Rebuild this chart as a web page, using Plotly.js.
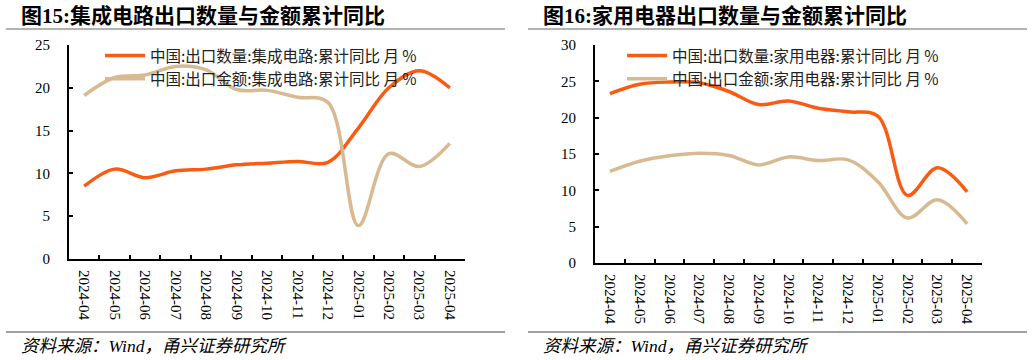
<!DOCTYPE html>
<html>
<head>
<meta charset="utf-8">
<script src="https://cdn.plot.ly/plotly-3.0.1.min.js"></script>
<style>html,body{margin:0;padding:0;background:#fff;}#chart{width:1032px;height:360px;}</style>
</head>
<body>
<div id="chart"></div>
<script>
const months = ["2024-04","2024-05","2024-06","2024-07","2024-08","2024-09","2024-10","2024-11","2024-12","2025-01","2025-02","2025-03","2025-04"];
const icQty = [8.5,10.5,9.5,10.3,10.5,11.0,11.2,11.4,11.3,15.3,20.0,22.0,20.0];
const icVal = [19.1,21.2,21.5,22.5,22.1,19.8,19.7,18.9,18.3,3.9,12.3,10.8,13.5];
const haQty = [23.3,24.6,24.9,24.8,23.6,21.8,22.3,21.3,20.8,20.2,9.3,13.1,9.8];
const haVal = [12.6,14.0,14.75,15.1,14.8,13.5,14.6,14.1,14.2,11.2,6.2,8.7,5.4];
const names = {
  icQty: "中国:出口数量:集成电路:累计同比 月 %",
  icVal: "中国:出口金额:集成电路:累计同比 月 %",
  haQty: "中国:出口数量:家用电器:累计同比 月 %",
  haVal: "中国:出口金额:家用电器:累计同比 月 %"
};
const titles = ["图15:集成电路出口数量与金额累计同比","图16:家用电器出口数量与金额累计同比"];
const sourceText = "资料来源：Wind，甬兴证券研究所";

const ORANGE = "#F95B12", TAN = "#D8BA92";
const W = 1032, H = 360;
const px = v => v / W, py = v => 1 - v / H;

function tr(y, name, color, xa, ya, leg) {
  return {x: months, y: y, name: name, type: "scatter", mode: "lines",
    line: {color: color, width: 3.5, shape: "spline", smoothing: 1},
    xaxis: xa, yaxis: ya, legend: leg, hoverinfo: "skip"};
}
const data = [
  tr(icQty, names.icQty, ORANGE, "x", "y", "legend"),
  tr(icVal, names.icVal, TAN, "x", "y", "legend"),
  tr(haQty, names.haQty, ORANGE, "x2", "y2", "legend2"),
  tr(haVal, names.haVal, TAN, "x2", "y2", "legend2")
];
const tickFont = {family: "Liberation Serif, Times New Roman, serif", size: 15, color: "#000"};
function xax(d0, d1, anchor) {
  return {domain: [px(d0), px(d1)], anchor: anchor, type: "category", range: [-0.5, 12.5],
    tickson: "boundaries", ticks: "inside", ticklen: 4, tickwidth: 2, tickcolor: "#000",
    showline: true, linecolor: "#000", linewidth: 2, showgrid: false, zeroline: false,
    tickangle: 90, tickfont: tickFont, ticklabelstandoff: 6, fixedrange: true};
}
function yax(y0, y1, max, anchor) {
  return {domain: [py(y0), py(y1)], anchor: anchor, range: [0, max], dtick: 5,
    ticks: "inside", ticklen: 4, tickwidth: 2, tickcolor: "#000",
    showline: true, linecolor: "#000", linewidth: 2, showgrid: false, zeroline: false,
    tickfont: tickFont, ticklabelstandoff: 14, fixedrange: true};
}
const legFont = {family: "Noto Sans CJK SC, sans-serif", size: 15.5, color: "#222"};
const layout = {
  width: W, height: H, margin: {l: 0, r: 0, t: 0, b: 0},
  paper_bgcolor: "#fff", plot_bgcolor: "rgba(0,0,0,0)", showlegend: true,
  xaxis: xax(69, 465, "y"), yaxis: yax(259, 45, 25, "x"),
  xaxis2: xax(595, 982, "y2"), yaxis2: yax(263, 45, 30, "x2"),
  legend: {x: px(100), y: py(39), xanchor: "left", yanchor: "top", bgcolor: "rgba(0,0,0,0)",
    font: legFont, tracegroupgap: 0, itemwidth: 40, traceorder: "normal"},
  legend2: {x: px(622), y: py(39), xanchor: "left", yanchor: "top", bgcolor: "rgba(0,0,0,0)",
    font: legFont, tracegroupgap: 0, itemwidth: 40, traceorder: "normal"},
  shapes: [
    {type: "line", xref: "paper", yref: "paper", x0: px(6), x1: px(505), y0: py(29), y1: py(29), line: {color: "#999", width: 1.5}},
    {type: "line", xref: "paper", yref: "paper", x0: px(528), x1: px(1027), y0: py(29), y1: py(29), line: {color: "#999", width: 1.5}},
    {type: "line", xref: "paper", yref: "paper", x0: px(6), x1: px(505), y0: py(332), y1: py(332), line: {color: "#444", width: 1.2}},
    {type: "line", xref: "paper", yref: "paper", x0: px(528), x1: px(1027), y0: py(332), y1: py(332), line: {color: "#444", width: 1.2}}
  ],
  annotations: [
    {text: "<b>" + titles[0] + "</b>", xref: "paper", yref: "paper", x: px(19), y: py(16), xanchor: "left", yanchor: "middle", showarrow: false,
      font: {family: "Liberation Serif, Noto Sans CJK SC, serif", size: 21, color: "#000"}},
    {text: "<b>" + titles[1] + "</b>", xref: "paper", yref: "paper", x: px(541), y: py(16), xanchor: "left", yanchor: "middle", showarrow: false,
      font: {family: "Liberation Serif, Noto Sans CJK SC, serif", size: 21, color: "#000"}},
    {text: "<i>" + sourceText + "</i>", xref: "paper", yref: "paper", x: px(19), y: py(346), xanchor: "left", yanchor: "middle", showarrow: false,
      font: {family: "Liberation Serif, Noto Sans CJK SC, serif", size: 17.5, color: "#000"}},
    {text: "<i>" + sourceText + "</i>", xref: "paper", yref: "paper", x: px(541), y: py(346), xanchor: "left", yanchor: "middle", showarrow: false,
      font: {family: "Liberation Serif, Noto Sans CJK SC, serif", size: 17.5, color: "#000"}}
  ]
};
Plotly.newPlot("chart", data, layout, {displayModeBar: false, staticPlot: true});
</script>
</body>
</html>
